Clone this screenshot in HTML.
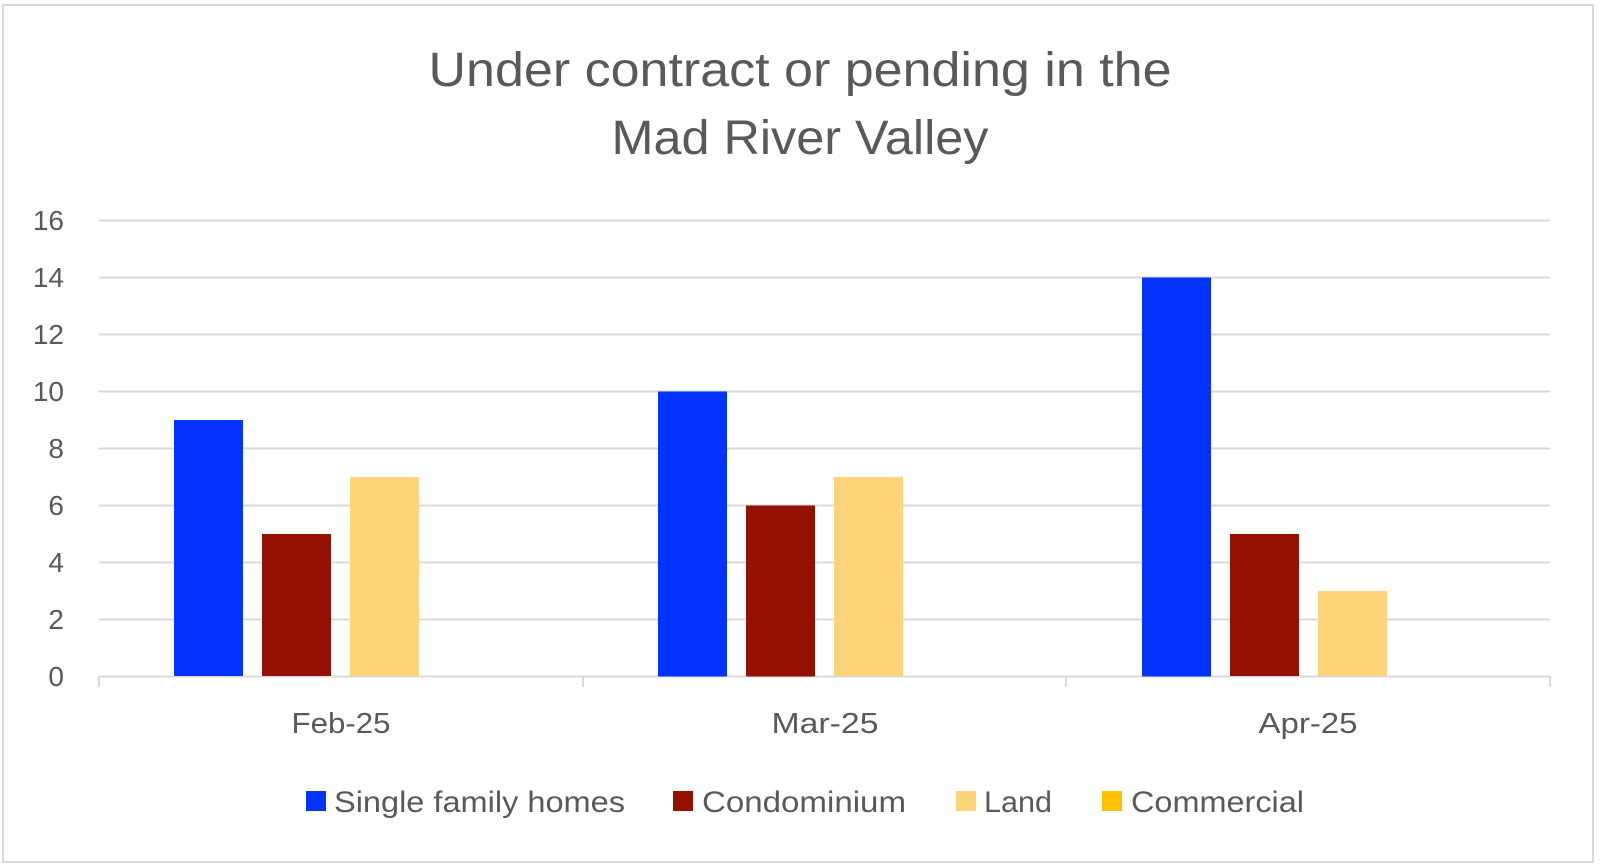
<!DOCTYPE html>
<html><head><style>
body{margin:0;background:#fff;}
svg{display:block;font-family:"Liberation Sans",Carlito,sans-serif;}
</style></head><body>
<svg width="1600" height="864" xmlns="http://www.w3.org/2000/svg">
<rect x="0" y="0" width="1600" height="864" fill="#fff"/>
<rect x="3" y="5" width="1590" height="857" fill="none" stroke="#d9d9d9" stroke-width="2"/>
<g fill="#595959" font-size="48" text-anchor="middle" lengthAdjust="spacingAndGlyphs">
<text x="800" y="86" textLength="743" lengthAdjust="spacingAndGlyphs">Under contract or pending in the</text>
<text x="800" y="154" textLength="377" lengthAdjust="spacingAndGlyphs">Mad River Valley</text>
</g>
<g stroke="#d9d9d9" stroke-width="2">
<line x1="99" x2="1550" y1="220.5" y2="220.5"/>
<line x1="99" x2="1550" y1="277.5" y2="277.5"/>
<line x1="99" x2="1550" y1="334.5" y2="334.5"/>
<line x1="99" x2="1550" y1="391.5" y2="391.5"/>
<line x1="99" x2="1550" y1="448.5" y2="448.5"/>
<line x1="99" x2="1550" y1="505.5" y2="505.5"/>
<line x1="99" x2="1550" y1="562.5" y2="562.5"/>
<line x1="99" x2="1550" y1="619.5" y2="619.5"/>
<line x1="99" x2="1550" y1="676.5" y2="676.5"/>
<line x1="99" x2="99" y1="676" y2="687"/>
<line x1="583" x2="583" y1="676" y2="687"/>
<line x1="1066" x2="1066" y1="676" y2="687"/>
<line x1="1550" x2="1550" y1="676" y2="687"/>
</g>
<g fill="#595959" font-size="28" text-anchor="end">
<text x="64" y="230">16</text>
<text x="64" y="287">14</text>
<text x="64" y="344">12</text>
<text x="64" y="401">10</text>
<text x="64" y="458">8</text>
<text x="64" y="515">6</text>
<text x="64" y="572">4</text>
<text x="64" y="629">2</text>
<text x="64" y="686">0</text>
</g>
<g>
<rect x="174" y="420" width="69" height="256" fill="#0433ff"/>
<rect x="262" y="534" width="69" height="142" fill="#941100"/>
<rect x="350" y="477" width="69" height="199" fill="#ffd479"/>
<rect x="658" y="391.5" width="69" height="285" fill="#0433ff"/>
<rect x="746" y="505.5" width="69" height="171" fill="#941100"/>
<rect x="834" y="477" width="69" height="199" fill="#ffd479"/>
<rect x="1142" y="277.5" width="69" height="399" fill="#0433ff"/>
<rect x="1230" y="534" width="69" height="142" fill="#941100"/>
<rect x="1318" y="591" width="69" height="85" fill="#ffd479"/>
</g>
<g fill="#595959" font-size="29" text-anchor="middle">
<text x="341" y="733" textLength="99" lengthAdjust="spacingAndGlyphs">Feb-25</text>
<text x="825" y="733" textLength="107" lengthAdjust="spacingAndGlyphs">Mar-25</text>
<text x="1308" y="733" textLength="99" lengthAdjust="spacingAndGlyphs">Apr-25</text>
</g>
<g font-size="30" fill="#595959">
<rect x="306" y="791" width="20" height="20" fill="#0433ff"/>
<text x="334" y="812" textLength="291" lengthAdjust="spacingAndGlyphs">Single family homes</text>
<rect x="673" y="791" width="20" height="20" fill="#941100"/>
<text x="702" y="812" textLength="204" lengthAdjust="spacingAndGlyphs">Condominium</text>
<rect x="956" y="791" width="20" height="20" fill="#ffd479"/>
<text x="984" y="812" textLength="68" lengthAdjust="spacingAndGlyphs">Land</text>
<rect x="1102" y="791" width="20" height="20" fill="#ffc000"/>
<text x="1131" y="812" textLength="173" lengthAdjust="spacingAndGlyphs">Commercial</text>
</g>
</svg>
</body></html>
